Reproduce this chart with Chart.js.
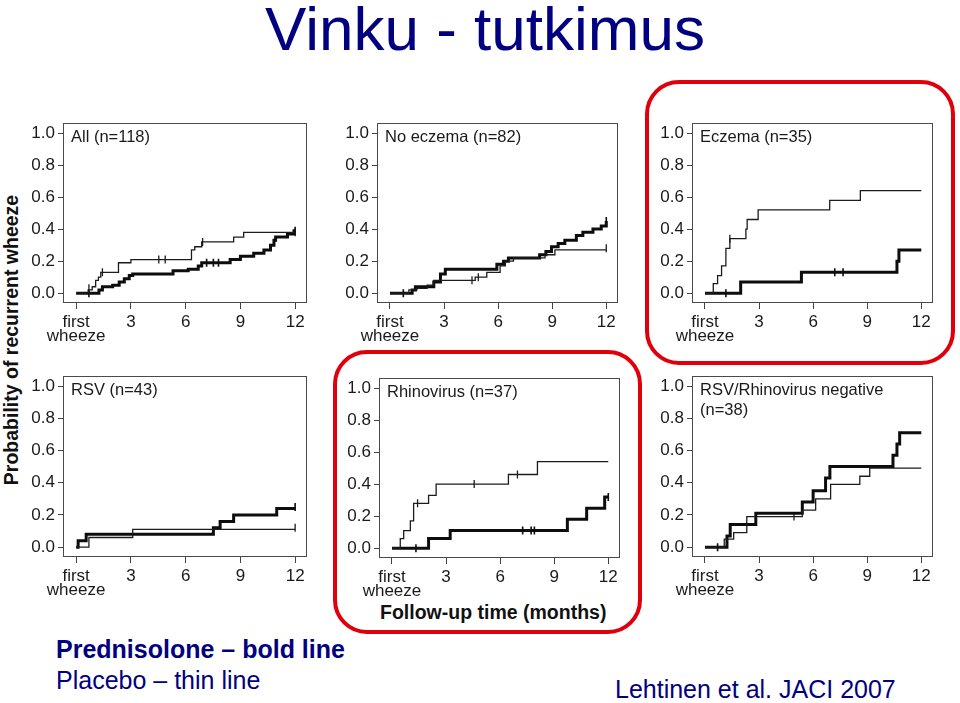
<!DOCTYPE html>
<html><head><meta charset="utf-8">
<script src="https://cdn.jsdelivr.net/npm/chart.js@4.4.1/dist/chart.umd.min.js"></script>
<style>
html,body{margin:0;padding:0;background:#fff;}
body{width:960px;height:703px;position:relative;overflow:hidden;font-family:"Liberation Sans",Arial,sans-serif;}
.t{position:absolute;white-space:nowrap;}
canvas{position:absolute;}
.red{position:absolute;border:4px solid #e0000b;border-radius:34px;box-sizing:border-box;}
</style></head><body>
<div class="t" style="left:265px;top:-2.5px;font-size:62px;line-height:62px;color:#000080">Vinku - tutkimus</div>
<div class="red" style="left:645px;top:80px;width:310px;height:285px"></div>
<div class="red" style="left:333px;top:350px;width:309px;height:284px"></div>
<div class="t" style="left:12px;top:340px;font-size:19.5px;line-height:19.5px;font-weight:bold;color:#111;transform:translate(-50%,-50%) rotate(-90deg)">Probability of recurrent wheeze</div>
<div class="t" style="left:380px;top:602.5px;font-size:19.5px;line-height:19.5px;font-weight:bold;color:#111">Follow-up time (months)</div>
<div class="t" style="left:56px;top:636.8px;font-size:25px;line-height:25px;font-weight:bold;color:#000080">Prednisolone – bold line</div>
<div class="t" style="left:56px;top:667.8px;font-size:25px;line-height:25px;color:#000080">Placebo – thin line</div>
<div class="t" style="left:615px;top:676.8px;font-size:25px;line-height:25px;color:#000080">Lehtinen et al. JACI 2007</div>
<script>
// ---- data: [months, cumulative probability] ----
const xTickValues = [0, 3, 6, 9, 12];
const yTickValues = [0, 0.2, 0.4, 0.6, 0.8, 1.0];
const panelTitles = [["All (n=118)"], ["No eczema (n=82)"], ["Eczema (n=35)"], ["RSV (n=43)"], ["Rhinovirus (n=37)"], ["RSV/Rhinovirus negative", "(n=38)"]];

const allPred = [[0,0],[1.25,0.02],[1.44,0.04],[2.0,0.05],[2.36,0.07],[2.64,0.09],[2.91,0.11],[3.1,0.12],[5.31,0.14],[6.14,0.15],[6.69,0.17],[6.88,0.19],[8.44,0.21],[9.0,0.23],[9.73,0.25],[10.29,0.27],[10.65,0.30],[10.84,0.33],[10.93,0.35],[11.58,0.37],[11.94,0.39],[12,0.39]];
const allPlac = [[0,0],[0.66,0.02],[0.88,0.04],[1.07,0.08],[1.22,0.10],[1.35,0.13],[2.32,0.19],[3.0,0.21],[6.32,0.27],[6.5,0.29],[6.88,0.32],[8.63,0.35],[9.18,0.38],[12,0.38]];
const noEczPred = [[0,0],[1.23,0.02],[1.41,0.04],[2.43,0.07],[2.8,0.12],[3.07,0.15],[5.93,0.18],[6.3,0.20],[6.57,0.22],[8.3,0.24],[8.65,0.26],[8.96,0.29],[9.33,0.31],[9.7,0.33],[10.34,0.36],[10.7,0.38],[11.26,0.40],[11.72,0.42],[12,0.45]];
const noEczPlac = [[0,0],[1.05,0.02],[1.5,0.03],[2.06,0.05],[2.43,0.08],[4.73,0.10],[5.37,0.13],[6.11,0.17],[6.4,0.20],[6.85,0.22],[8.6,0.24],[9.15,0.27],[12,0.27]];
const eczPred = [[0,0],[1.98,0.07],[5.35,0.13],[10.65,0.20],[10.76,0.27],[12,0.27]];
const eczPlac = [[0,0],[0.46,0.06],[0.7,0.11],[0.92,0.17],[1.16,0.28],[1.38,0.34],[2.27,0.40],[2.34,0.46],[2.95,0.52],[6.92,0.58],[8.62,0.64],[12,0.64]];
const rsvPred = [[0,0],[0.11,0.04],[0.55,0.08],[7.52,0.12],[7.89,0.16],[8.63,0.20],[10.99,0.24],[12,0.24]];
const rsvPlac = [[0,0],[0.7,0.06],[3.1,0.11],[12,0.11]];
const rvPred = [[0,0],[2.03,0.06],[3.23,0.11],[9.73,0.18],[10.8,0.25],[11.8,0.32],[12,0.32]];
const rvPlac = [[0,0],[0.46,0.06],[0.65,0.11],[1.02,0.17],[1.2,0.28],[2.03,0.33],[2.45,0.40],[6.46,0.46],[8.07,0.54],[12,0.54]];
const negPred = [[0,0],[1.22,0.07],[1.4,0.14],[2.82,0.21],[5.4,0.28],[6.0,0.35],[6.69,0.43],[6.93,0.50],[10.43,0.57],[10.65,0.64],[10.8,0.71],[12,0.71]];
const negPlac = [[0,0],[1.07,0.05],[1.59,0.09],[2.32,0.19],[5.4,0.23],[6.14,0.30],[6.97,0.39],[8.59,0.44],[9.14,0.49],[12,0.49]];

// censoring marks
const allPredCens = [[0.7,0],[7.15,0.19],[7.52,0.19],[7.8,0.19],[12,0.39]];
const allPlacCens = [[0.7,0.03],[1.44,0.13],[4.53,0.21],[4.88,0.21],[6.93,0.32],[12,0.38]];
const noEczPredCens = [[0.74,0],[12,0.45]];
const noEczPlacCens = [[4.55,0.08],[4.9,0.10],[12,0.28]];
const eczPredCens = [[1.16,0],[7.2,0.13],[7.66,0.13]];
const eczPlacCens = [[1.38,0.34]];
const rsvPredCens = [[12,0.25]];
const rsvPlacCens = [[12,0.12]];
const rvPredCens = [[1.33,0],[7.25,0.11],[7.72,0.11],[7.9,0.11],[12,0.32]];
const rvPlacCens = [[1.42,0.28],[4.56,0.40],[6.96,0.46]];
const negPredCens = [[0.7,0]];
const negPlacCens = [[4.94,0.19]];

// ---- layout ----
const frames = [
  {l:63, t:120, w:244, h:183},
  {l:377, t:120, w:241, h:183},
  {l:692, t:120, w:241, h:183},
  {l:63, t:373, w:244, h:184},
  {l:379, t:375, w:241, h:183},
  {l:692, t:373, w:241, h:184}
];
const series = [
  [allPred, allPlac, allPredCens, allPlacCens],
  [noEczPred, noEczPlac, noEczPredCens, noEczPlacCens],
  [eczPred, eczPlac, eczPredCens, eczPlacCens],
  [rsvPred, rsvPlac, rsvPredCens, rsvPlacCens],
  [rvPred, rvPlac, rvPredCens, rvPlacCens],
  [negPred, negPlac, negPredCens, negPlacCens]
];

const FONT = '"Liberation Sans", Arial, sans-serif';
const YW = 55, PT = 10, PR = 10, XH = 48;
const toXY = a => a.map(p => ({x: p[0], y: p[1]}));

frames.forEach((f, i) => {
  const c = document.createElement('canvas');
  c.width = f.w + YW + PR;
  c.height = f.h + PT + XH;
  c.style.left = (f.l - YW) + 'px';
  c.style.top = (f.t - PT) + 'px';
  document.body.appendChild(c);
  const [pred, plac, predC, placC] = series[i];
  const yPad = 10 / (f.h - 20);
  const lines = panelTitles[i];
  new Chart(c, {
    type: 'line',
    data: {
      datasets: [
        {data: toXY(plac), stepped: 'before', borderColor: '#1c1c1c', borderWidth: 1.3, pointRadius: 0, fill: false},
        {data: toXY(pred), stepped: 'before', borderColor: '#0d0d0d', borderWidth: 3, pointRadius: 0, fill: false},
        {data: toXY(placC), showLine: false, pointStyle: 'line', rotation: 90, pointRadius: 4, borderColor: '#1c1c1c', borderWidth: 1.3},
        {data: toXY(predC), showLine: false, pointStyle: 'line', rotation: 90, pointRadius: 4, borderColor: '#0d0d0d', borderWidth: 1.6}
      ]
    },
    options: {
      responsive: false, animation: false, devicePixelRatio: 1,
      layout: {padding: {left: 0, top: PT, right: PR, bottom: 0}},
      plugins: {legend: {display: false}, tooltip: {enabled: false}},
      scales: {
        x: {
          type: 'linear', min: -0.72, max: 12.65,
          afterBuildTicks: s => { s.ticks = xTickValues.map(v => ({value: v})); },
          afterFit: s => { s.height = XH; },
          border: {display: false},
          grid: {drawOnChartArea: false, drawTicks: true, tickLength: 6, color: '#444', lineWidth: 1},
          ticks: {autoSkip: false, maxRotation: 0, padding: 6, color: '#1a1a1a',
                  font: {family: FONT, size: 17, lineHeight: 0.82},
                  callback: v => v === 0 ? ['first', 'wheeze'] : String(v)}
        },
        y: {
          type: 'linear', min: -yPad, max: 1 + yPad,
          afterBuildTicks: s => { s.ticks = yTickValues.map(v => ({value: v})); },
          afterFit: s => { s.width = YW; },
          border: {display: false},
          grid: {drawOnChartArea: false, drawTicks: true, tickLength: 5, color: '#444', lineWidth: 1},
          ticks: {padding: 3, color: '#1a1a1a', font: {family: FONT, size: 17},
                  callback: v => Number(v).toFixed(1)}
        }
      }
    },
    plugins: [{
      id: 'frameAndLabel',
      beforeDatasetsDraw(chart) {
        const a = chart.chartArea, ctx = chart.ctx;
        ctx.save();
        ctx.strokeStyle = '#4a4a4a';
        ctx.lineWidth = 1;
        ctx.strokeRect(Math.round(a.left) + 0.5, Math.round(a.top) + 0.5, Math.round(a.right - a.left) - 1, Math.round(a.bottom - a.top) - 1);
        ctx.fillStyle = '#1a1a1a';
        ctx.font = '16.5px ' + FONT;
        ctx.textBaseline = 'alphabetic';
        lines.forEach((s, k) => ctx.fillText(s, a.left + 8, a.top + 19 + k * 20));
        ctx.restore();
      }
    }]
  });
});
</script>
</body></html>
